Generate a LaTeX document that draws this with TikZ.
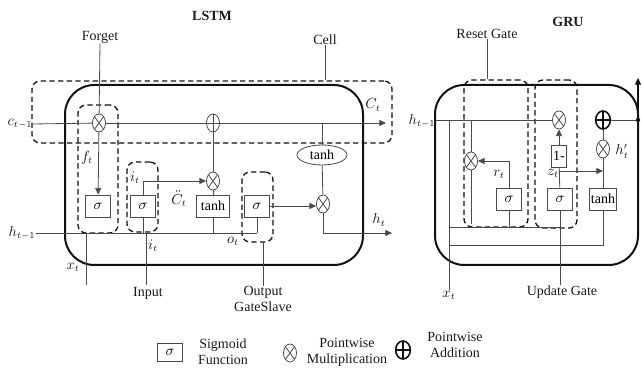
\documentclass[tikz,border=0pt]{standalone}
\usepackage{fontspec}
\setmainfont{Liberation Serif}
\usetikzlibrary{shapes.geometric, arrows.meta, positioning, calc}
\definecolor{wire}{HTML}{4A4A4A}
\definecolor{framecol}{HTML}{111111}
\definecolor{textcolor}{HTML}{1A1A1A}
\tikzset{
  lbl/.style={
    text=textcolor,
    font=\fontsize{10.5}{12}\selectfont,
    inner sep=0pt
  },
  titlelbl/.style={
    lbl,
    font=\fontsize{10.5}{12}\selectfont\bfseries
  },
  wire/.style={
    draw=wire,
    line width=0.6pt
  },
  flowarrow/.style={
    wire,
    -{Triangle[length=5pt, width=4.5pt]}
  },
  outerframe/.style={
    draw=framecol,
    line width=1.5pt,
    rounded corners=22pt,
    inner sep=0pt
  },
  gatebound/.style={
    draw=framecol,
    line width=1pt,
    dash pattern=on 4pt off 2.5pt,
    rounded corners=6pt,
    inner sep=0pt
  },
  gatebox/.style={
    draw=wire,
    fill=white,
    line width=0.6pt,
    font=\fontsize{10.5}{12}\selectfont,
    minimum width=19pt,
    minimum height=16.5pt,
    inner sep=1pt
  },
  squash/.style={
    gatebox,
    ellipse,
    minimum width=37.5pt,
    minimum height=15pt
  },
  mulsym/.style={
    ellipse,
    draw=wire,
    fill=white,
    line width=0.6pt,
    minimum width=9.75pt,
    minimum height=13.5pt,
    inner sep=0pt,
    path picture={
      \draw[wire] (path picture bounding box.north west) -- (path picture bounding box.south east)
                  (path picture bounding box.north east) -- (path picture bounding box.south west);
    }
  },
  addsym/.style={
    ellipse,
    draw=wire,
    fill=white,
    line width=0.6pt,
    minimum width=9.75pt,
    minimum height=13.5pt,
    inner sep=0pt,
    path picture={
      \draw[wire] (path picture bounding box.north) -- (path picture bounding box.south)
                  (path picture bounding box.west) -- (path picture bounding box.east);
    }
  },
  boldadd/.style={
    addsym,
    draw=framecol,
    line width=1.2pt,
    minimum width=11pt,
    path picture={
      \draw[framecol, line width=1.2pt] (path picture bounding box.north) -- (path picture bounding box.south)
                  (path picture bounding box.west) -- (path picture bounding box.east);
    }
  }
}

\begin{document}
\begin{tikzpicture}[x=0.75pt, y=-0.75pt]
  \useasboundingbox (0,0) rectangle (642,373);

  % LSTM frames
  \node (lstmtitle) [titlelbl] at (212,16) {LSTM};
  \node (lstmframe) [outerframe, minimum width=223.5pt, minimum height=135pt] at (214,175) {};
  \node (cellgroup) [gatebound, minimum width=270pt, minimum height=46.5pt] at (212,112) {};
  \node (fgroup) [gatebound, minimum width=30pt, minimum height=96pt] at (98,169) {};
  \node (igroup) [gatebound, minimum width=23.25pt, minimum height=52.5pt] at (142.5,197) {};
  \node (ogroup) [gatebound, minimum width=23.25pt, minimum height=52.5pt] at (257.5,207) {};

  % LSTM units
  \node (fmul) [mulsym] at (99,123) {};
  \node (cadd) [addsym] at (213,123) {};
  \node (imul) [mulsym] at (213,181) {};
  \node (omul) [mulsym] at (323,204) {};
  \node (fsig) [gatebox] at (98,206) {$\sigma$};
  \node (isig) [gatebox] at (143,206) {$\sigma$};
  \node (ctanh) [gatebox, minimum width=25pt] at (213,206) {tanh};
  \node (osig) [gatebox] at (257,206) {$\sigma$};
  \node (htanh) [squash] at (322,155) {tanh};

  % LSTM labels
  \node (forgetlbl) [lbl] at (100,37) {Forget};
  \node (celllbl) [lbl] at (325,40) {Cell};
  \node (cprev) [lbl] at (20,124) {$c_{t-1}$};
  \node (cnext) [lbl] at (373,105) {$C_t$};
  \node (hprev) [lbl] at (22,233) {$h_{t-1}$};
  \node (hnext) [lbl] at (379,220) {$h_t$};
  \node (ftlbl) [lbl] at (87,158) {$f_t$};
  \node (itlbl) [lbl] at (135,178) {$i_t$};
  \node (itlow) [lbl] at (153,246) {$i_t$};
  \node (ctlbl) [lbl] at (179,199) {$\ddot{C}_t$};
  \node (otlbl) [lbl] at (233,241) {$o_t$};
  \node (xtlbl) [lbl] at (73,267) {$x_t$};
  \node (inputlbl) [lbl] at (148,293) {Input};
  \node (outputlbl) [lbl, align=center] at (263,299) {Output\\GateSlave};

  \coordinate (cend) at (386,123);
  \coordinate (hline) at (257,233);
  \coordinate (xtend) at (86,285);
  \coordinate (inend) at (146,285);
  \coordinate (hend) at (392,233);

  % LSTM connectors
  \draw [wire] (cprev.east) -- (fmul);
  \draw [wire] (fmul) -- (cadd);
  \draw [flowarrow] (cadd) -- (cend);
  \draw [wire] (forgetlbl.south) -- (fmul);
  \draw [wire] (celllbl.south) -- (celllbl |- cellgroup.north);
  \draw [flowarrow] (fmul) -- (fsig);
  \draw [wire] (hprev.east |- hline) -- (hline);
  \draw [wire] (xtend |- hline) -- (xtend);
  \draw [wire] (isig.south) -- (isig.south |- hline);
  \draw [wire] (inend |- hline) -- (inend);
  \draw [flowarrow] (isig.north) |- (imul.west);
  \draw [wire] (imul) -- (cadd);
  \draw [wire] (ctanh) -- (imul);
  \draw [wire] (ctanh.south) -- (ctanh.south |- hline);
  \draw [wire] (osig.south) -- (hline);
  \draw [wire] (263,242) -- (outputlbl.north -| 263,0);
  \draw [flowarrow] (osig.east) -- (osig.east -| omul.west);
  \draw [wire] (htanh.north |- cend) -- (htanh);
  \draw [wire] (htanh) -- (omul);
  \draw [flowarrow] (omul.south) |- (hend);

  % GRU frames
  \node (grutitle) [titlelbl] at (568,22) {GRU};
  \node (gruframe) [outerframe, minimum width=152.25pt, minimum height=135pt] at (536.5,175) {};
  \node (rgroup) [gatebound, minimum width=48pt, minimum height=110.25pt] at (496,153.5) {};
  \node (zgroup) [gatebound, minimum width=31.5pt, minimum height=111pt] at (556,154) {};

  % GRU units
  \node (umul) [mulsym] at (559,120) {};
  \node (rmul) [mulsym] at (471,161) {};
  \node (hmul) [mulsym] at (603,149) {};
  \node (gadd) [boldadd] at (603,120) {};
  \node (rsig) [gatebox] at (509,199) {$\sigma$};
  \node (zsig) [gatebox] at (560,199) {$\sigma$};
  \node (gtanh) [gatebox, minimum width=17pt] at (603,199) {tanh};
  \node (onebox) [gatebox, minimum width=11.25pt, inner sep=0.5pt] at (559,156) {1-};

  % GRU labels
  \node (resetlbl) [lbl] at (487,34) {Reset Gate};
  \node (updatelbl) [lbl] at (562,292) {Update Gate};
  \node (ghprev) [lbl] at (422,121) {$h_{t-1}$};
  \node (gxt) [lbl] at (449,295) {$x_t$};
  \node (rtlbl) [lbl] at (499,174) {$r_t$};
  \node (ztlbl) [lbl] at (553,173) {$z_t$};
  \node (htlbl) [lbl] at (622,151) {$h'_t$};

  \coordinate (gx) at (449,120);
  \coordinate (rx) at (471,120);
  \coordinate (rbot) at (471,224);
  \coordinate (lowa) at (560,227);
  \coordinate (lowb) at (603,245);
  \coordinate (zj) at (560,171);
  \coordinate (gdot) at (638,120);
  \coordinate (gout) at (638,78);

  % GRU connectors
  \draw [wire] (ghprev.east |- gx) -- (umul);
  \draw [wire] (resetlbl.south) -- (resetlbl |- rgroup.north);
  \draw [wire] (gx) -- (gx |- gxt.north);
  \draw [wire] (rx) -- (rmul);
  \draw [wire] (rmul) -- (rbot);
  \draw [flowarrow] (rsig.north) |- (rmul.east);
  \draw [wire] (rsig.south) -- (rsig.south |- lowa);
  \draw [wire] (gx |- lowa) -- (lowa);
  \draw [wire] (zsig.south) -- (updatelbl.north -| zsig);
  \draw [wire] (zsig) -- (onebox);
  \draw [flowarrow] (onebox) -- (umul);
  \draw [flowarrow] (zj) -- (zj -| gtanh);
  \draw [wire] (gtanh) -- (hmul);
  \draw [wire] (hmul) -- (gadd);
  \draw [wire] (gtanh.south) |- (gx |- lowb);
  \draw [wire] (gadd) -- (gdot);
  \fill [framecol] (gdot) circle (1.6pt);
  \draw [flowarrow, draw=framecol, line width=0.9pt] (gdot) -- (gout);

  % Legend
  \node (legsig) [gatebox, minimum height=13.5pt] at (170,352) {$\sigma$};
  \node (legsigtxt) [lbl, align=center] at (223,352) {Sigmoid\\Function};
  \node (legmul) [mulsym] at (290,353) {};
  \node (legmultxt) [lbl, align=center] at (347,352) {Pointwise\\Multiplication};
  \node (legadd) [boldadd] at (403,350) {};
  \node (legaddtxt) [lbl, align=center] at (455,345) {Pointwise\\Addition};

\end{tikzpicture}
\end{document}
